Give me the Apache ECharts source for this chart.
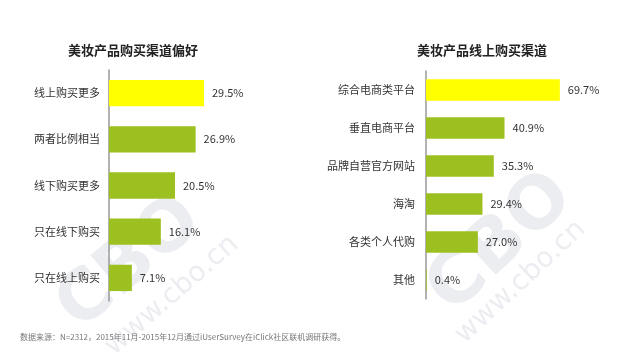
<!DOCTYPE html>
<html>
<head>
<meta charset="utf-8">
<script src="https://cdn.jsdelivr.net/npm/echarts@6/dist/echarts.min.js"></script>
<style>html,body{margin:0;padding:0;background:#fff;}#c{width:640px;height:362px;}</style>
</head>
<body>
<div id="c"></div>
<script>
const leftTitle = '美妆产品购买渠道偏好';
const leftCategories = ['线上购买更多', '两者比例相当', '线下购买更多', '只在线下购买', '只在线上购买'];
const leftValues = [29.5, 26.9, 20.5, 16.1, 7.1];
const rightTitle = '美妆产品线上购买渠道';
const rightCategories = ['综合电商类平台', '垂直电商平台', '品牌自营官方网站', '海淘', '各类个人代购', '其他'];
const rightValues = [69.7, 40.9, 35.3, 29.4, 27.0, 0.4];
const footnote = '数据来源：N=2312，2015年11月-2015年12月通过iUserSurvey在iClick社区联机调研获得。';

const YELLOW = '#ffff00';
const GREEN = '#9cc020';
const font = '"Noto Sans CJK SC", "Microsoft YaHei", sans-serif';
const WM = 'rgba(200,204,214,0.35)';

function colored(vals) {
  return vals.map((v, i) => ({ value: v, itemStyle: { color: i === 0 ? YELLOW : GREEN } }));
}

const chart = echarts.init(document.getElementById('c'));
chart.setOption({
  backgroundColor: '#fff',
  animation: false,
  textStyle: { fontFamily: font },
  graphic: [
    { type: 'text', left: 45, top: 185, rotation: 0.7, z: 0, style: { text: 'CBO', fontSize: 70, fontWeight: 900, fontFamily: 'DejaVu Sans', fill: WM } },
    { type: 'text', left: 100, top: 230, rotation: 0.72, z: 0, style: { text: 'www.cbo.cn', fontSize: 28, fontFamily: 'DejaVu Sans', fill: WM } },
    { type: 'text', left: 415, top: 160, rotation: 0.75, z: 0, style: { text: 'CBO', fontSize: 72, fontWeight: 900, fontFamily: 'DejaVu Sans', fill: WM } },
    { type: 'text', left: 450, top: 215, rotation: 0.75, z: 0, style: { text: 'www.cbo.cn', fontSize: 28, fontFamily: 'DejaVu Sans', fill: WM } },
    { type: 'text', left: 20, top: 333, style: { text: footnote, fontSize: 8, fill: '#777', fontFamily: font } }
  ],
  title: [
    { text: leftTitle, left: 128, top: 39, textAlign: 'center', textStyle: { fontSize: 13, fontWeight: 'bold', color: '#222', fontFamily: font } },
    { text: rightTitle, left: 477, top: 39, textAlign: 'center', textStyle: { fontSize: 13, fontWeight: 'bold', color: '#222', fontFamily: font } }
  ],
  grid: [
    { left: 109, top: 70, width: 161, height: 231 },
    { left: 426, top: 71, width: 192, height: 228 }
  ],
  xAxis: [
    { gridIndex: 0, type: 'value', min: 0, max: 50, show: false },
    { gridIndex: 1, type: 'value', min: 0, max: 100, show: false }
  ],
  yAxis: [
    { gridIndex: 0, type: 'category', inverse: true, data: leftCategories,
      axisLine: { lineStyle: { color: '#999', width: 1.5 } }, axisTick: { show: false },
      axisLabel: { color: '#333', fontSize: 11, margin: 9, fontFamily: font } },
    { gridIndex: 1, type: 'category', inverse: true, data: rightCategories,
      axisLine: { lineStyle: { color: '#999', width: 1.5 } }, axisTick: { show: false },
      axisLabel: { color: '#333', fontSize: 11, margin: 11, fontFamily: font } }
  ],
  series: [
    { type: 'bar', xAxisIndex: 0, yAxisIndex: 0, data: colored(leftValues), barCategoryGap: '43%',
      label: { show: true, position: 'right', distance: 8, formatter: p => p.value.toFixed(1) + '%', color: '#333', fontSize: 11, fontFamily: font } },
    { type: 'bar', xAxisIndex: 1, yAxisIndex: 1, data: colored(rightValues), barCategoryGap: '44%',
      label: { show: true, position: 'right', distance: 8, formatter: p => p.value.toFixed(1) + '%', color: '#333', fontSize: 11, fontFamily: font } }
  ]
});
</script>
</body>
</html>
